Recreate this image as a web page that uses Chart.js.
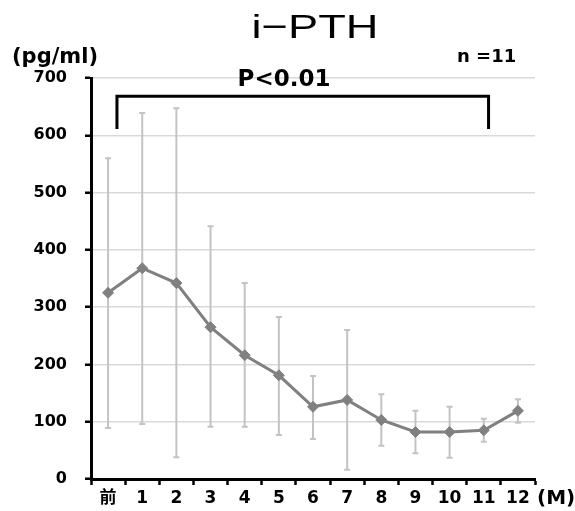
<!DOCTYPE html>
<html>
<head>
<meta charset="utf-8">
<title>i-PTH</title>
<script src="https://cdn.jsdelivr.net/npm/chart.js@4/dist/chart.umd.min.js"></script>
<style>
	html, body { margin: 0; padding: 0; background: #fff; }
	canvas { display: block; }
</style>
</head>
<body>
<canvas id="pth-chart" width="575" height="511"></canvas>
<script>
// Chart data
var months = ['前', '1', '2', '3', '4', '5', '6', '7', '8', '9', '10', '11', '12'];
var pthMean = [325, 368, 342, 265, 216, 181, 126, 138, 103, 82, 82, 85, 119];
var pthUpper = [560, 639, 647, 441, 342, 283, 180, 260, 148, 119, 126, 105, 139];
var pthLower = [89, 96, 38, 91, 91, 77, 70, 16, 58, 45, 37, 65, 98];
var yMin = 0;
var yMax = 700;
var yStep = 100;

// Significance bracket (category index span, value range)
var bracketFrom = 0.26;
var bracketTo = 11.14;
var bracketTop = 668;
var bracketBottom = 611;

var boldFont = "'DejaVu Sans', 'Noto Sans CJK JP', sans-serif";
var lineGray = '#808080';
var barGray = '#c3c3c3';

/**
 * Error bars drawn under the line.
 */
var errorBarPlugin = {
	id: 'errorBars',
	beforeDatasetsDraw: function(chart) {
		var ctx = chart.ctx;
		var y = chart.scales.y;
		var meta = chart.getDatasetMeta(0);

		ctx.save();
		ctx.strokeStyle = barGray;
		ctx.lineWidth = 2;
		meta.data.forEach(function(pt, i) {
			var top = y.getPixelForValue(pthUpper[i]);
			var bottom = y.getPixelForValue(pthLower[i]);
			ctx.beginPath();
			ctx.moveTo(pt.x, top);
			ctx.lineTo(pt.x, bottom);
			ctx.moveTo(pt.x - 3, top);
			ctx.lineTo(pt.x + 3, top);
			ctx.moveTo(pt.x - 3, bottom);
			ctx.lineTo(pt.x + 3, bottom);
			ctx.stroke();
		});
		ctx.restore();
	}
};

/**
 * Title, unit labels and the P-value bracket.
 */
var labelsPlugin = {
	id: 'extraLabels',
	afterDraw: function(chart) {
		var ctx = chart.ctx;
		var x = chart.scales.x;
		var y = chart.scales.y;
		var area = chart.chartArea;

		ctx.save();
		ctx.fillStyle = '#000';
		ctx.textBaseline = 'alphabetic';

		// Title (stretched wide like the original)
		ctx.save();
		ctx.font = "normal 34px 'Liberation Sans', Arial, sans-serif";
		ctx.textAlign = 'center';
		ctx.translate((area.left + area.right) / 2 + 2, 38);
		ctx.scale(1.33, 1);
		ctx.fillText('i\u2212PTH', 0, 0);
		ctx.restore();

		ctx.textAlign = 'left';
		ctx.font = 'bold 21px ' + boldFont;
		ctx.fillText('(pg/ml)', 12, 63);

		ctx.font = 'bold 18px ' + boldFont;
		ctx.fillText('n =11', 457, 62);

		ctx.font = 'bold 20px ' + boldFont;
		ctx.fillText('(M)', area.right + 2, 504);

		// Bracket
		var left = x.getPixelForValue(bracketFrom);
		var right = x.getPixelForValue(bracketTo);
		var top = y.getPixelForValue(bracketTop);
		var bottom = y.getPixelForValue(bracketBottom);
		ctx.strokeStyle = '#000';
		ctx.lineWidth = 3;
		ctx.lineJoin = 'miter';
		ctx.beginPath();
		ctx.moveTo(left, bottom);
		ctx.lineTo(left, top);
		ctx.lineTo(right, top);
		ctx.lineTo(right, bottom);
		ctx.stroke();

		ctx.font = 'bold 23px ' + boldFont;
		ctx.textAlign = 'center';
		ctx.fillText('P<0.01', 284, 86);

		ctx.restore();
	}
};

var ctx = document.getElementById('pth-chart').getContext('2d');

var pthChart = new Chart(ctx, {
	type: 'line',
	data: {
		labels: months,
		datasets: [{
			label: 'i-PTH',
			data: pthMean,
			borderColor: lineGray,
			backgroundColor: lineGray,
			borderWidth: 3,
			tension: 0,
			pointStyle: 'rectRot',
			pointRadius: 5.5,
			pointBackgroundColor: lineGray,
			pointBorderColor: lineGray,
			pointBorderWidth: 1
		}]
	},
	options: {
		responsive: false,
		animation: false,
		layout: {
			padding: { top: 78, right: 40, bottom: 0, left: 0 }
		},
		plugins: {
			legend: { display: false },
			tooltip: { enabled: false },
			title: { display: false }
		},
		scales: {
			x: {
				offset: true,
				afterFit: function(scale) {
					scale.height = 32;
				},
				border: {
					display: true,
					color: '#000',
					width: 3
				},
				grid: {
					offset: true,
					drawOnChartArea: false,
					drawTicks: true,
					tickLength: 6,
					tickColor: '#000',
					tickWidth: 2.5
				},
				ticks: {
					color: '#000',
					padding: 3,
					maxRotation: 0,
					autoSkip: false,
					font: { family: boldFont, size: 17, weight: 'bold' }
				}
			},
			y: {
				min: yMin,
				max: yMax,
				afterFit: function(scale) {
					scale.width = 91;
				},
				border: {
					display: true,
					color: '#000',
					width: 3
				},
				grid: {
					color: '#d9d9d9',
					lineWidth: 1.5,
					drawTicks: true,
					tickLength: 6,
					tickColor: '#000',
					tickWidth: 2.5
				},
				ticks: {
					stepSize: yStep,
					color: '#000',
					padding: 18,
					font: { family: boldFont, size: 16, weight: 'bold' }
				}
			}
		}
	},
	plugins: [errorBarPlugin, labelsPlugin]
});
</script>
</body>
</html>
